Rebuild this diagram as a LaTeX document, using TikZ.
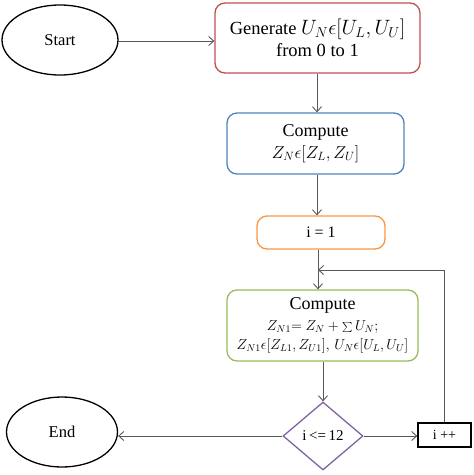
\documentclass[tikz,border=0pt]{standalone}
\usepackage{fontspec}
\setmainfont{Liberation Serif}
\usetikzlibrary{shapes.geometric,arrows.meta}
\definecolor{cred}{HTML}{C0504D}
\definecolor{cblue}{HTML}{4F81BD}
\definecolor{corange}{HTML}{F79646}
\definecolor{cgreen}{HTML}{9BBB59}
\definecolor{cpurple}{HTML}{8064A2}
\definecolor{cline}{HTML}{595959}
\begin{document}
\begin{tikzpicture}[x=1pt,y=-1pt,
  box/.style={draw, line width=1.3pt, rounded corners=10pt, align=center, inner sep=0pt},
  oval/.style={draw, ellipse, line width=1.3pt, inner sep=0pt, font=\fontsize{16.5}{20}\selectfont},
  conn/.style={draw=cline, line width=0.9pt, -{Straight Barb[length=5pt,width=9pt]}},
  link/.style={draw=cline, line width=0.9pt}]
\useasboundingbox (0,0) rectangle (474,475);
\node[oval, minimum width=116pt, minimum height=70pt] (start) at (60,40) {Start};
\node[box, draw=cred, minimum width=205pt, minimum height=70pt, font=\fontsize{18.5}{22}\selectfont] (gen) at (317.5,38)
  {Generate {\fontsize{19.5}{22}\selectfont$U_N\epsilon[U_L,U_U]$}\\from 0 to 1};
\node[box, draw=cblue, minimum width=177pt, minimum height=61pt, font=\fontsize{18}{22}\selectfont] (comp) at (315.5,143.5)
  {Compute\\{\fontsize{16.5}{19}\selectfont $Z_N\epsilon[Z_L,Z_U]$}};
\node[box, draw=corange, minimum width=128pt, minimum height=33pt, font=\fontsize{16}{19}\selectfont] (i1) at (321,232.5) {i = 1};
\node[box, draw=cgreen, minimum width=191pt, minimum height=71pt, font=\fontsize{18}{19}\selectfont] (comp2) at (322.5,325.5)
  {Compute\\[2pt]{\fontsize{14}{16}\selectfont $Z_{N1}{=}\ Z_N+{\textstyle\sum}\,U_N;$}\\{\fontsize{14}{16}\selectfont $Z_{N1}\epsilon[Z_{L1},Z_{U1}],\,U_N\epsilon[U_L,U_U]$}};
\node[draw=cpurple, diamond, line width=1.3pt, minimum width=80pt, minimum height=68pt, inner sep=0pt, font=\fontsize{15}{17}\selectfont] (dia) at (323,436) {i\,<=\,12};
\node[oval, minimum width=111pt, minimum height=70pt] (end) at (62,432) {End};
\node[draw, line width=1.3pt, minimum width=53pt, minimum height=24pt, inner sep=0pt, font=\fontsize{14}{17}\selectfont] (ipp) at (444.5,435) {i ++};
\coordinate (join) at (318,270);
\draw[conn] (start.east |- 0,41) -- (gen.west |- 0,41);
\draw[conn] (gen.south -| 317,0) -- (comp.north -| 317,0);
\draw[conn] (comp.south -| 317,0) -- (i1.north -| 317,0);
\draw[conn] (i1.south -| 318,0) -- (comp2.north -| 318,0);
\draw[conn] (comp2.south -| 323,0) -- (dia.north);
\draw[conn] (dia.west) -- (end.east |- dia.west);
\draw[conn] (dia.east) -- (ipp.west |- dia.east);
\draw[link] (ipp.north) |- (join);
\draw[conn] (ipp.north |- join) -- (join);
\end{tikzpicture}
\end{document}
